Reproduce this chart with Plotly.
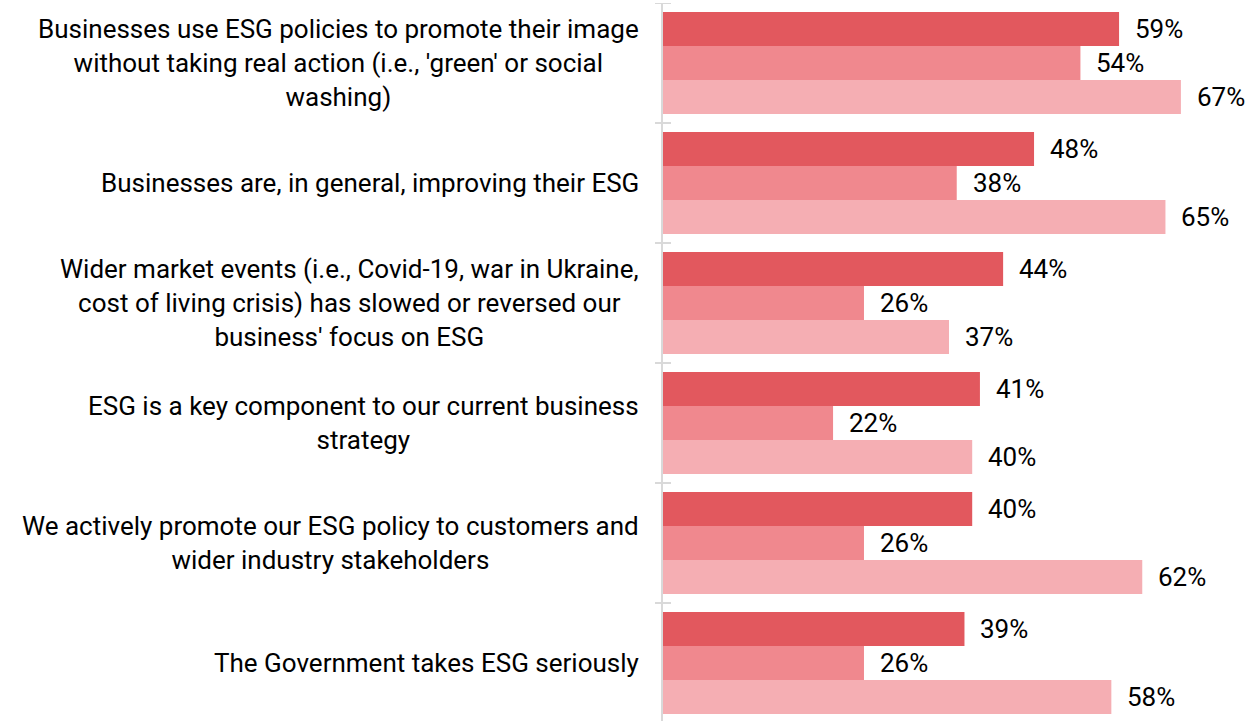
import plotly.graph_objects as go

# Statements (top to bottom) and the share agreeing in each of three groups
statements = [
    "Businesses use ESG policies to promote their image<br>without taking real action (i.e., 'green' or social<br>washing)",
    "Businesses are, in general, improving their ESG",
    "Wider market events (i.e., Covid-19, war in Ukraine,<br>cost of living crisis) has slowed or reversed our<br>business' focus on ESG",
    "ESG is a key component to our current business<br>strategy",
    "We actively promote our ESG policy to customers and<br>wider industry stakeholders",
    "The Government takes ESG seriously",
]
group_a = [59, 48, 44, 41, 40, 39]
group_b = [54, 38, 26, 22, 26, 26]
group_c = [67, 65, 37, 40, 62, 58]

series = [group_a, group_b, group_c]
colors = ["#E2585E", "#F0888E", "#F5AEB3"]
names = ["Group A", "Group B", "Group C"]

W, H = 1246, 721
ML, MR, MT, MB = 663, 3, 3, 0
plot_w = W - ML - MR
plot_h = H - MT - MB
px_per_pct = 7.73
band_px = 120.0

positions = list(range(len(statements)))
bargap = 0.15
bar_w = (1 - bargap) / len(series)

fig = go.Figure()
for vals, col, nm in zip(series, colors, names):
    fig.add_trace(go.Bar(
        x=vals, y=positions, orientation="h", name=nm,
        marker=dict(color=col, line=dict(width=0)),
        hoverinfo="x+name",
    ))

label_font = dict(family="Roboto", size=26, color="#000000", weight=400)

annotations = []
# Value labels to the right of each bar
for k, vals in enumerate(series):
    offset = (k - (len(series) - 1) / 2) * bar_w
    for i, v in enumerate(vals):
        annotations.append(dict(
            x=v, y=i + offset, xref="x", yref="y",
            text=f"{v}%", showarrow=False,
            xanchor="left", yanchor="middle", xshift=14,
            font=label_font,
        ))

# Category labels, centred line by line, right edge near the axis
for i, s in enumerate(statements):
    annotations.append(dict(
        x=0, y=i, xref="paper", yref="y",
        text=s, showarrow=False, align="center",
        xanchor="right", yanchor="middle", xshift=-22,
        font=label_font,
    ))

# Tick marks crossing the axis at the category boundaries
tick_half = 8 / plot_w
shapes = []
for b in range(len(statements) + 1):
    shapes.append(dict(
        type="line", xref="paper", yref="y",
        x0=-tick_half, x1=tick_half, y0=b - 0.5, y1=b - 0.5,
        line=dict(color="#D9D9D9", width=2),
    ))

y_bottom = -0.5 + plot_h / band_px

fig.update_layout(
    width=W, height=H,
    margin=dict(l=ML, r=MR, t=MT, b=MB, pad=0),
    paper_bgcolor="white", plot_bgcolor="white",
    barmode="group", bargap=bargap, bargroupgap=0,
    showlegend=False,
    annotations=annotations, shapes=shapes,
    font=dict(family="Roboto", size=26, color="#000000"),
    xaxis=dict(range=[0, plot_w / px_per_pct], showgrid=False, zeroline=False,
               showticklabels=False, showline=False, ticks=""),
    yaxis=dict(range=[y_bottom, -0.5], showgrid=False, zeroline=False,
               showticklabels=False, showline=True, linecolor="#D9D9D9",
               linewidth=2, ticks=""),
)

fig.write_html("out.html")
